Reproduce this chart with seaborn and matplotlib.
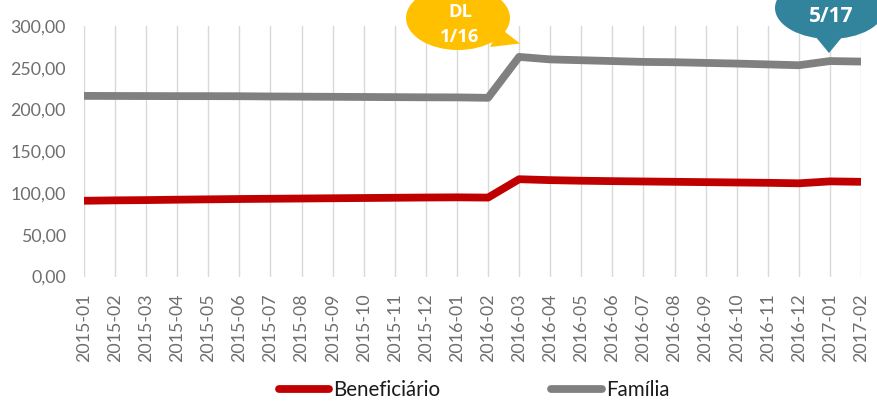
import matplotlib
matplotlib.use("Agg")
import matplotlib.pyplot as plt
from matplotlib.lines import Line2D
from matplotlib.patches import Ellipse, Polygon
from matplotlib.ticker import FuncFormatter
import pandas as pd
import seaborn as sns

# --- Dados ---
periodos = [
    "2015-01", "2015-02", "2015-03", "2015-04", "2015-05", "2015-06",
    "2015-07", "2015-08", "2015-09", "2015-10", "2015-11", "2015-12",
    "2016-01", "2016-02", "2016-03", "2016-04", "2016-05", "2016-06",
    "2016-07", "2016-08", "2016-09", "2016-10", "2016-11", "2016-12",
    "2017-01", "2017-02",
]
beneficiario = [
    90.7, 91.2, 91.5, 92.0, 92.4, 92.8, 93.1, 93.4, 93.7, 94.0, 94.3, 94.6,
    94.8, 94.5, 116.5, 115.4, 114.7, 114.2, 113.8, 113.4, 113.0, 112.6,
    112.2, 111.6, 113.9, 113.4,
]
familia = [
    216.3, 216.2, 216.1, 216.0, 216.0, 215.9, 215.6, 215.4, 215.2, 215.0,
    214.8, 214.6, 214.5, 214.0, 263.0, 260.0, 259.0, 258.0, 257.0, 256.6,
    255.8, 255.0, 254.0, 253.0, 258.0, 257.4,
]
series = ["Beneficiário", "Família"]
cores = {"Beneficiário": "#C00000", "Família": "#808080"}

df = pd.DataFrame({
    "periodo": periodos * 2,
    "valor": beneficiario + familia,
    "serie": [series[0]] * len(periodos) + [series[1]] * len(periodos),
})

W, H = 877, 403

sns.set_style("white")
plt.rcParams["font.family"] = ["Lato", "DejaVu Sans"]

fig = plt.figure(figsize=(W / 100, H / 100), dpi=100)
ax = fig.add_axes([84 / W, 1 - 276.5 / H, (861 - 84) / W, (276.5 - 26) / H])

sns.lineplot(data=df, x="periodo", y="valor", hue="serie", palette=cores,
             linewidth=5.6, ax=ax, legend=False, sort=False,
             solid_joinstyle="round", solid_capstyle="butt")

ax.set_xlim(0, len(periodos) - 1)
ax.set_ylim(0, 300)
ax.set_yticks(range(0, 301, 50))
ax.yaxis.set_major_formatter(FuncFormatter(lambda v, _: f"{v:.2f}".replace(".", ",")))
ax.set_xticks(range(len(periodos)))
ax.set_xticklabels(periodos, rotation=90)
ax.set_xlabel("")
ax.set_ylabel("")

ax.grid(axis="x", color="#D9D9D9", linewidth=1)
ax.grid(axis="y", visible=False)
ax.set_axisbelow(True)
for s in ax.spines.values():
    s.set_visible(False)
ax.tick_params(axis="both", length=0, labelsize=12.8, labelcolor="#6E6E6E")
ax.tick_params(axis="y", pad=13)
ax.tick_params(axis="x", pad=12)

# legenda
handles = [Line2D([0], [0], color=cores[s], lw=5.6, solid_capstyle="round") for s in series]
fig.legend(handles, series, loc="center", bbox_to_anchor=(474 / W, 1 - 390 / H), ncol=2,
           frameon=False, fontsize=14.8, handlelength=2.45, handletextpad=0.2,
           columnspacing=5.4, labelcolor="#1A1A1A")


# --- Balões ---
def px(x, y):
    return (x / W, 1 - y / H)


def balao(cx, cy, w, h, cauda, cor):
    fig.add_artist(Ellipse(px(cx, cy), w / W, h / H, color=cor, lw=0,
                           transform=fig.transFigure, clip_on=False, zorder=5))
    fig.add_artist(Polygon([px(*p) for p in cauda], closed=True, color=cor, lw=0,
                           transform=fig.transFigure, clip_on=False, zorder=5))


negrito = dict(color="white", fontweight="bold", ha="center", va="center",
               family=["Open Sans", "DejaVu Sans"], zorder=6)

balao(458, 18, 104, 64, [(500, 28), (520, 43.5), (490, 47)], "#FFC000")
fig.text(*px(460, 12), "DL", fontsize=13.2, **negrito)
fig.text(*px(460, 37), "1/16", fontsize=13.2, **negrito)

balao(830, 8, 110, 62, [(815, 36), (829, 53), (843, 36)], "#31849B")
fig.text(*px(831, 16), "5/17", fontsize=15, **negrito)

fig.savefig("out.png", dpi=100)
